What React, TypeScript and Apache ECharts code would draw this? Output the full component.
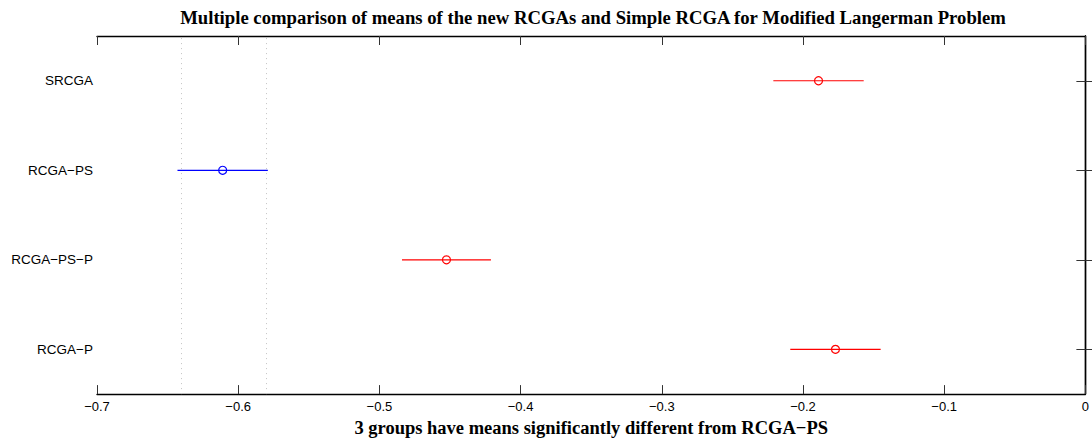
import React, { useEffect, useRef } from 'react';
import * as echarts from 'echarts';

const groups = ['RCGA−P', 'RCGA−PS−P', 'RCGA−PS', 'SRCGA'];
const groupPos = [1, 2, 3, 4];
const means = [-0.177, -0.4525, -0.611, -0.189];
const lower = [-0.209, -0.484, -0.643, -0.221];
const upper = [-0.145, -0.421, -0.579, -0.157];
const groupColors = ['#ff0000', '#ff0000', '#0000ff', '#ff0000'];
const controlIndex = 2;
const xMin = -0.7;
const xMax = 0;
const xStep = 0.1;
const titleText = 'Multiple comparison of means of the new RCGAs and Simple RCGA for Modified Langerman Problem';
const xName = '3 groups have means significantly different from RCGA−PS';

const fmt = (v: number) => (Math.abs(v) < 1e-9 ? '0' : (v < 0 ? '−' : '') + Math.abs(v).toFixed(1));

export default function App() {
  const ref = useRef<HTMLDivElement>(null);
  useEffect(() => {
    if (!ref.current) return;
    document.body.style.margin = '0';
    document.body.style.overflow = 'hidden';
    document.documentElement.style.overflow = 'hidden';
    const chart = echarts.init(ref.current, null, { renderer: 'svg' });
    const sans = 'Liberation Sans, Arial, sans-serif';
    const serif = 'Liberation Serif, Times New Roman, serif';
    const axisLine = { show: true, lineStyle: { color: '#000', width: 1.4 } };
    const tick = { show: true, inside: true, length: 9, lineStyle: { color: '#333', width: 1 } };
    const yLabel = (v: number) => groups[groupPos.indexOf(Math.round(v))] ?? '';
    chart.setOption({
      animation: false,
      backgroundColor: '#fff',
      graphic: [
        {
          type: 'text',
          x: 593,
          y: 17.5,
          style: {
            text: titleText,
            textAlign: 'center',
            textVerticalAlign: 'middle',
            font: 'bold 18.7px "Liberation Serif", "Times New Roman", serif',
            fill: '#000',
          },
        },
      ],
      grid: { left: 97, right: 3, top: 36, bottom: 42, containLabel: false },
      xAxis: [
        {
          type: 'value',
          position: 'bottom',
          min: xMin,
          max: xMax,
          interval: xStep,
          axisLine,
          axisTick: tick,
          splitLine: { show: false },
          axisLabel: { color: '#000', fontFamily: sans, fontSize: 13, margin: 6, formatter: fmt, showMinLabel: true, showMaxLabel: true },
          name: xName,
          nameLocation: 'middle',
          nameGap: 18,
          nameTextStyle: { color: '#000', fontFamily: serif, fontWeight: 'bold', fontSize: 18.5 },
        },
        {
          type: 'value',
          position: 'top',
          min: xMin,
          max: xMax,
          interval: xStep,
          axisLine,
          axisTick: tick,
          splitLine: { show: false },
          axisLabel: { show: false },
        },
      ],
      yAxis: [
        {
          type: 'value',
          position: 'left',
          min: 0.5,
          max: 4.5,
          axisLine,
          axisTick: { ...tick, customValues: groupPos },
          axisLabel: { color: '#000', fontFamily: sans, fontSize: 13.5, margin: 4, customValues: groupPos, formatter: yLabel },
          splitLine: { show: false },
        },
        {
          type: 'value',
          position: 'right',
          min: 0.5,
          max: 4.5,
          axisLine,
          axisTick: { ...tick, customValues: groupPos },
          axisLabel: { show: false },
          splitLine: { show: false },
        },
      ],
      series: [
        {
          type: 'custom',
          xAxisIndex: 0,
          yAxisIndex: 0,
          dimensions: ['lo', 'hi', 'pos', 'mean'],
          encode: { x: [0, 1, 3], y: 2 },
          data: groups.map((_, i) => [lower[i], upper[i], groupPos[i], means[i]]),
          renderItem: (params: any, api: any) => {
            const lo = api.coord([api.value(0), api.value(2)]);
            const hi = api.coord([api.value(1), api.value(2)]);
            const m = api.coord([api.value(3), api.value(2)]);
            const color = groupColors[params.dataIndex];
            return {
              type: 'group',
              children: [
                { type: 'line', shape: { x1: lo[0], y1: lo[1], x2: hi[0], y2: hi[1] }, style: { stroke: color, lineWidth: 1.2 } },
                { type: 'circle', shape: { cx: m[0], cy: m[1], r: 4 }, style: { fill: 'transparent', stroke: color, lineWidth: 1.2 } },
              ],
            };
          },
          markLine: {
            silent: true,
            symbol: 'none',
            label: { show: false },
            lineStyle: { type: [1, 4], color: '#c4c4c4', width: 1 },
            data: [{ xAxis: lower[controlIndex] }, { xAxis: upper[controlIndex] }],
          },
        },
      ],
    });
    return () => chart.dispose();
  }, []);
  return <div ref={ref} style={{ position: 'fixed', left: 0, top: 0, width: 1092, height: 442 }} />;
}
